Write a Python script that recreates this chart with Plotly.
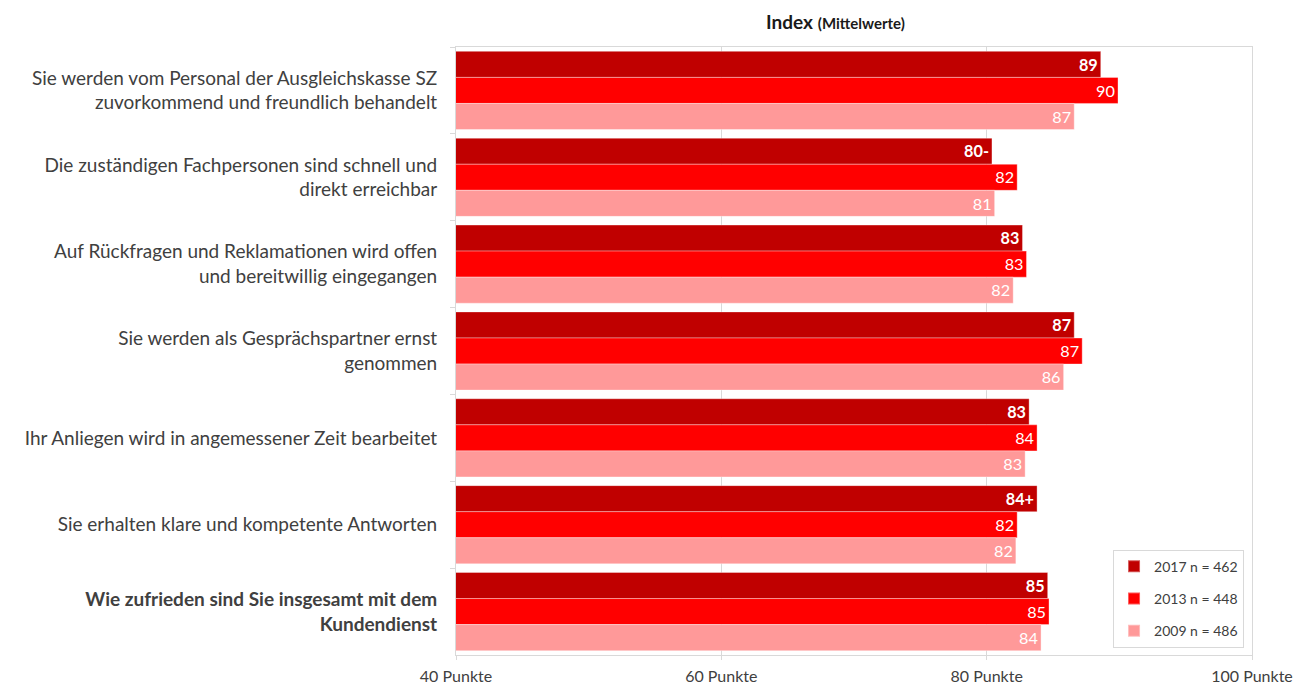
import plotly.graph_objects as go

# Survey statements (top to bottom)
categories = [
    "Sie werden vom Personal der Ausgleichskasse SZ<br>zuvorkommend und freundlich behandelt",
    "Die zuständigen Fachpersonen sind schnell und<br>direkt erreichbar",
    "Auf Rückfragen und Reklamationen wird offen<br>und bereitwillig eingegangen",
    "Sie werden als Gesprächspartner ernst<br>genommen",
    "Ihr Anliegen wird in angemessener Zeit bearbeitet",
    "Sie erhalten klare und kompetente Antworten",
    "<b>Wie zufrieden sind Sie insgesamt mit dem<br>Kundendienst</b>",
]

# Mean index values per survey wave
values_2017 = [88.6, 80.4, 82.7, 86.6, 83.2, 83.8, 84.6]
values_2013 = [89.9, 82.3, 83.0, 87.2, 83.8, 82.3, 84.7]
values_2009 = [86.6, 80.6, 82.0, 85.8, 82.9, 82.2, 84.1]

# Significance markers on the 2017 values
suffix_2017 = ["", "-", "", "", "", "+", ""]

series_names = ["2017 n = 462", "2013 n = 448", "2009 n = 486"]
colors = ["#C00000", "#FF0000", "#FF9999"]

x_ticks = [40, 60, 80, 100]
x_tick_labels = ["40 Punkte", "60 Punkte", "80 Punkte", "100 Punkte"]

FONT = "Lato"


def labels(vals, suffixes=None):
    suffixes = suffixes or [""] * len(vals)
    return [f"{round(v)}{s}" for v, s in zip(vals, suffixes)]


fig = go.Figure()

# With the category axis reversed, the first trace sits at the top of each group
series = [
    (series_names[0], values_2017, colors[0], labels(values_2017, suffix_2017), True),
    (series_names[1], values_2013, colors[1], labels(values_2013), False),
    (series_names[2], values_2009, colors[2], labels(values_2009), False),
]
for name, vals, col, txt, bold in series:
    fig.add_trace(go.Bar(
        y=categories,
        x=vals,
        base=0,
        orientation="h",
        name=name,
        legendgroup=name,
        marker=dict(color=col, line=dict(color="rgba(255,255,255,0.35)", width=1)),
        text=[f"<b>{t}</b>" if bold else t for t in txt],
        textposition="inside",
        insidetextanchor="end",
        textangle=0,
        textfont=dict(family=FONT, size=17, color="white"),
        cliponaxis=False,
    ))

fig.update_layout(
    width=1302,
    height=688,
    margin=dict(l=456, r=50, t=47, b=33),
    paper_bgcolor="white",
    plot_bgcolor="white",
    barmode="group",
    bargap=0.1,
    bargroupgap=0,
    uniformtext=dict(mode="show", minsize=8),
    font=dict(family=FONT, size=19, color="#404040"),
    legend=dict(
        x=0.99, y=0.012,
        xanchor="right", yanchor="bottom",
        bgcolor="white",
        bordercolor="#d9d9d9",
        borderwidth=1,
        font=dict(family=FONT, size=14, color="#404040"),
        itemsizing="constant",
        tracegroupgap=11,
    ),
    annotations=[dict(
        text="<b>Index</b> <span style='font-size:15px'><b>(Mittelwerte)</b></span>",
        x=0.477, y=1.0, xref="paper", yref="paper",
        xanchor="center", yanchor="bottom", yshift=12,
        showarrow=False,
        font=dict(family=FONT, size=19, color="#1a1a1a"),
    )],
)

fig.update_xaxes(
    range=[40, 100],
    tickvals=x_ticks,
    ticktext=x_tick_labels,
    showgrid=True,
    gridcolor="#d9d9d9",
    gridwidth=1,
    showline=True,
    linecolor="#d9d9d9",
    mirror=True,
    ticks="outside",
    ticklen=4,
    tickcolor="#d9d9d9",
    ticklabelstandoff=3,
    tickfont=dict(family=FONT, size=16, color="#404040"),
    zeroline=False,
    automargin=False,
)

fig.update_yaxes(
    autorange="reversed",
    showline=True,
    linecolor="#d9d9d9",
    mirror=True,
    ticks="outside",
    tickson="boundaries",
    ticklen=5,
    tickcolor="#d9d9d9",
    ticklabelstandoff=14,
    showgrid=False,
    tickfont=dict(family=FONT, size=19, color="#404040"),
    automargin=False,
)

fig.write_html("out.html")
